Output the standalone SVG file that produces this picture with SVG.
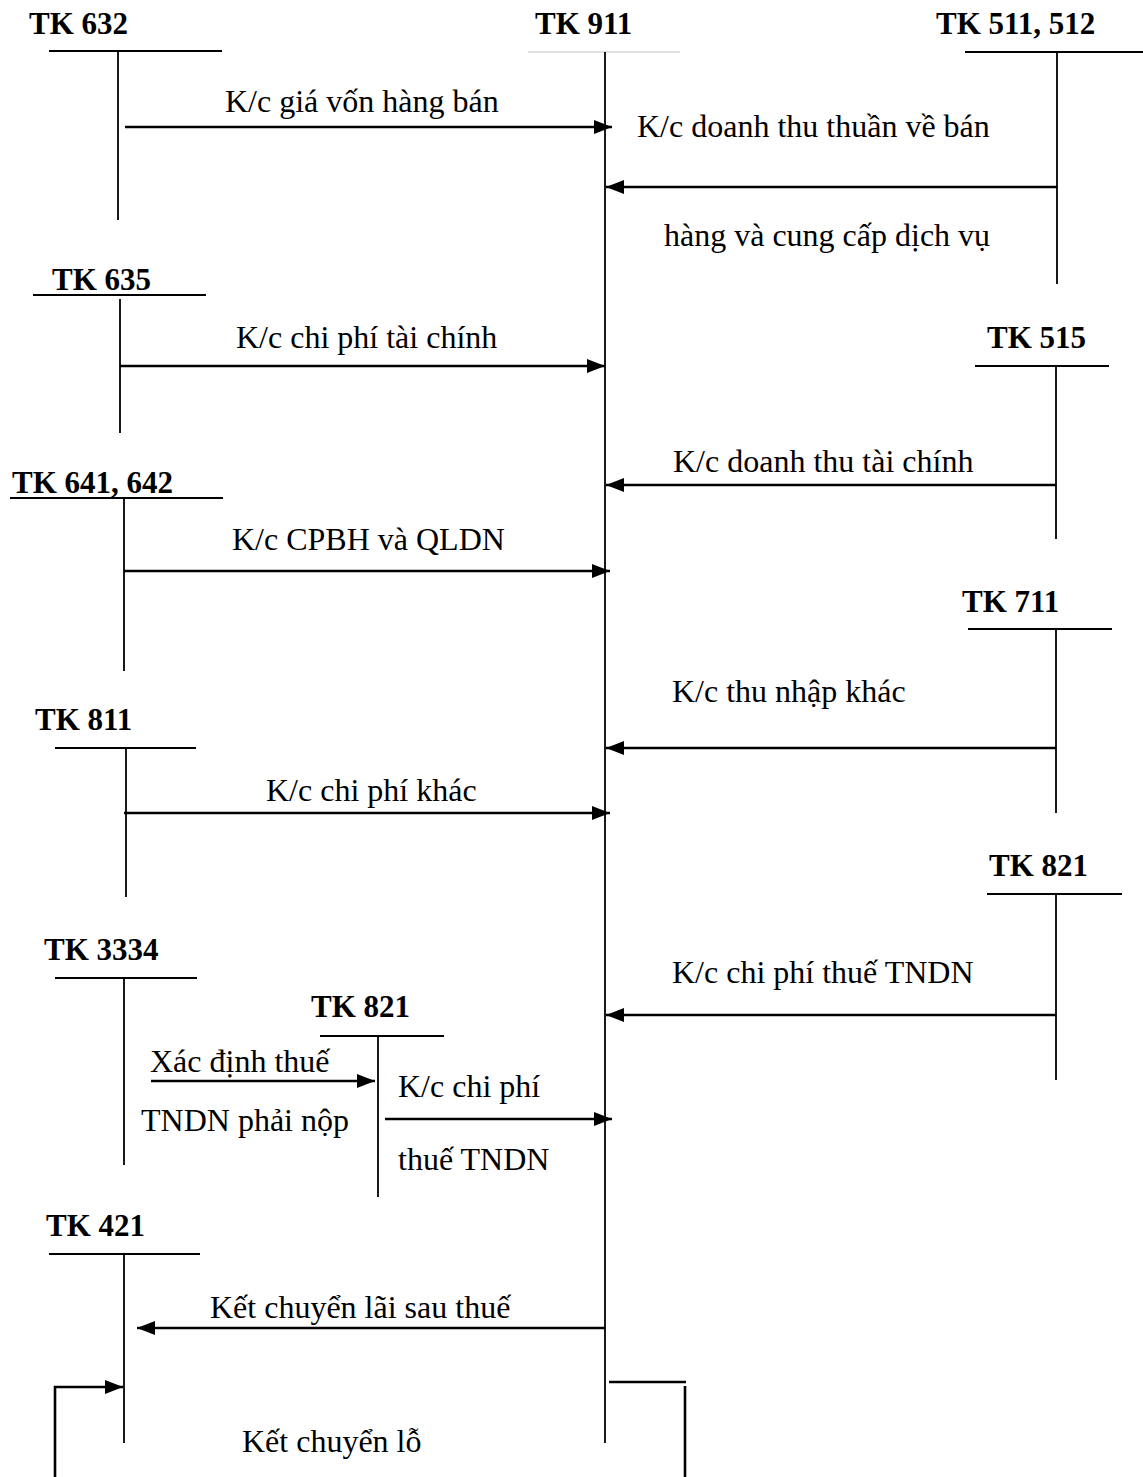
<svg xmlns="http://www.w3.org/2000/svg" width="1143" height="1477" viewBox="0 0 1143 1477">
  <style>
    .head { font-family: "Liberation Serif", "Times New Roman", serif; font-weight: bold; font-size: 31px; fill: #000; }
    .lbl { font-family: "Liberation Serif", "Times New Roman", serif; font-size: 32px; fill: #000; }
    .bar { stroke: #000; stroke-width: 2; fill: none; }
    .stem { stroke: #000; stroke-width: 1.8; fill: none; }
    .flow { stroke: #000; stroke-width: 2.6; fill: none; }
  </style>
  <defs>
    <marker id="arrow" markerUnits="userSpaceOnUse" markerWidth="18" markerHeight="14" refX="18" refY="7" orient="auto">
      <path d="M0,0 L18,7 L0,14 Z" fill="#000"/>
    </marker>
  </defs>
  <rect width="1143" height="1477" fill="#fff"/>

  <!-- T-accounts -->
  <g id="tk632">
    <text class="head" x="29" y="34">TK 632</text>
    <line class="bar" x1="49" y1="51" x2="222" y2="51"/>
    <line class="stem" x1="118" y1="52" x2="118" y2="220"/>
  </g>
  <g id="tk911">
    <text class="head" x="535" y="34">TK 911</text>
    <line x1="528" y1="52" x2="680" y2="52" stroke="#c4c4c4" stroke-width="1.2"/>
    <line class="stem" x1="605" y1="52" x2="605" y2="1443"/>
  </g>
  <g id="tk511">
    <text class="head" x="936" y="34">TK 511, 512</text>
    <line class="bar" x1="965" y1="52" x2="1143" y2="52"/>
    <line class="stem" x1="1057" y1="52" x2="1057" y2="284"/>
  </g>
  <g id="tk635">
    <text class="head" x="52" y="290">TK 635</text>
    <line class="bar" x1="33" y1="295" x2="206" y2="295"/>
    <line class="stem" x1="120" y1="299" x2="120" y2="433"/>
  </g>
  <g id="tk515">
    <text class="head" x="987" y="348">TK 515</text>
    <line class="bar" x1="975" y1="366" x2="1109" y2="366"/>
    <line class="stem" x1="1056" y1="366" x2="1056" y2="539"/>
  </g>
  <g id="tk641">
    <text class="head" x="12" y="493">TK 641, 642</text>
    <line class="bar" x1="10" y1="498" x2="223" y2="498"/>
    <line class="stem" x1="124" y1="498" x2="124" y2="671"/>
  </g>
  <g id="tk711">
    <text class="head" x="962" y="612">TK 711</text>
    <line class="bar" x1="968" y1="629" x2="1112" y2="629"/>
    <line class="stem" x1="1056" y1="629" x2="1056" y2="813"/>
  </g>
  <g id="tk811">
    <text class="head" x="35" y="730">TK 811</text>
    <line class="bar" x1="55" y1="748" x2="196" y2="748"/>
    <line class="stem" x1="126" y1="748" x2="126" y2="897"/>
  </g>
  <g id="tk821-right">
    <text class="head" x="989" y="876">TK 821</text>
    <line class="bar" x1="987" y1="894" x2="1122" y2="894"/>
    <line class="stem" x1="1056" y1="894" x2="1056" y2="1080"/>
  </g>
  <g id="tk3334">
    <text class="head" x="44" y="960">TK 3334</text>
    <line class="bar" x1="55" y1="978" x2="197" y2="978"/>
    <line class="stem" x1="124" y1="978" x2="124" y2="1165"/>
  </g>
  <g id="tk821-inner">
    <text class="head" x="311" y="1017">TK 821</text>
    <line class="bar" x1="320" y1="1036" x2="444" y2="1036"/>
    <line class="stem" x1="378" y1="1036" x2="378" y2="1197"/>
  </g>
  <g id="tk421">
    <text class="head" x="46" y="1236">TK 421</text>
    <line class="bar" x1="49" y1="1254" x2="200" y2="1254"/>
    <line class="stem" x1="124" y1="1254" x2="124" y2="1443"/>
  </g>

  <!-- Transfer entries -->
  <g id="connectors">
    <line class="flow" x1="125" y1="127" x2="612" y2="127" marker-end="url(#arrow)"/>
    <line class="flow" x1="1057" y1="187" x2="606" y2="187" marker-end="url(#arrow)"/>
    <line class="flow" x1="120" y1="366" x2="605" y2="366" marker-end="url(#arrow)"/>
    <line class="flow" x1="1056" y1="485" x2="606" y2="485" marker-end="url(#arrow)"/>
    <line class="flow" x1="124" y1="571" x2="610" y2="571" marker-end="url(#arrow)"/>
    <line class="flow" x1="1056" y1="748" x2="606" y2="748" marker-end="url(#arrow)"/>
    <line class="flow" x1="124" y1="813" x2="610" y2="813" marker-end="url(#arrow)"/>
    <line class="flow" x1="1056" y1="1015" x2="606" y2="1015" marker-end="url(#arrow)"/>
    <line class="flow" x1="151" y1="1081" x2="375" y2="1081" marker-end="url(#arrow)"/>
    <line class="flow" x1="385" y1="1119" x2="612" y2="1119" marker-end="url(#arrow)"/>
    <line class="flow" x1="605" y1="1328" x2="137" y2="1328" marker-end="url(#arrow)"/>
    <!-- loss transfer -->
    <polyline class="flow" points="55,1477 55,1387 123,1387" stroke-width="2.2" marker-end="url(#arrow)"/>
    <line class="flow" x1="609" y1="1382" x2="686" y2="1382" stroke-width="2.2"/>
    <line class="flow" x1="685" y1="1386" x2="685" y2="1477" stroke-width="2.2"/>
  </g>

  <!-- Entry labels -->
  <g id="labels">
    <text class="lbl" x="225" y="112">K/c giá vốn hàng bán</text>
    <text class="lbl" x="637" y="137">K/c doanh thu thuần về bán</text>
    <text class="lbl" x="664" y="246">hàng và cung cấp dịch vụ</text>
    <text class="lbl" x="236" y="348">K/c chi phí tài chính</text>
    <text class="lbl" x="673" y="472">K/c doanh thu tài chính</text>
    <text class="lbl" x="232" y="550">K/c CPBH và QLDN</text>
    <text class="lbl" x="672" y="702">K/c thu nhập khác</text>
    <text class="lbl" x="266" y="801">K/c chi phí khác</text>
    <text class="lbl" x="672" y="983">K/c chi phí thuế TNDN</text>
    <text class="lbl" x="150" y="1072">Xác định thuế</text>
    <text class="lbl" x="141" y="1131">TNDN phải nộp</text>
    <text class="lbl" x="398" y="1097">K/c chi phí</text>
    <text class="lbl" x="398" y="1170">thuế TNDN</text>
    <text class="lbl" x="210" y="1318">Kết chuyển lãi sau thuế</text>
    <text class="lbl" x="242" y="1452">Kết chuyển lỗ</text>
  </g>
</svg>
